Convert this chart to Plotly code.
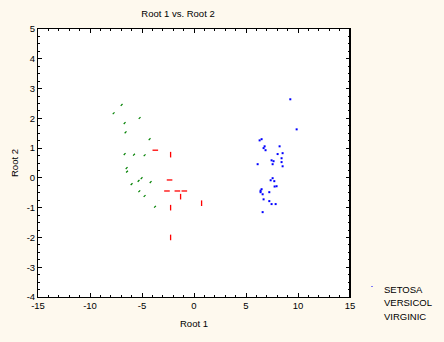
import plotly.graph_objects as go

setosa_x = [9.26, 9.87, 6.31, 6.50, 6.79, 6.69, 6.88, 8.23, 8.52, 8.04, 8.42, 7.46, 7.65, 8.42, 6.12,
            7.56, 8.52, 7.56, 7.37, 7.72, 7.75, 7.94, 6.50, 6.40, 6.40, 6.60, 7.24, 6.69, 7.24, 7.46,
            7.85, 6.60]
setosa_y = [2.64, 1.63, 1.26, 1.30, 1.06, 1.00, 0.93, 1.06, 0.83, 0.80, 0.66, 0.59, 0.56, 0.53, 0.46,
            0.46, 0.39, -0.01, -0.08, -0.11, -0.29, -0.28, -0.38, -0.43, -0.48, -0.55, -0.48, -0.72,
            -0.78, -0.88, -0.88, -1.15]

versicol_x = [-6.96, -7.73, -5.23, -6.67, -6.58, -4.27, -6.67, -5.77, -4.75, -6.48, -6.44, -5.04,
              -5.33, -4.17, -6.00, -5.26, -4.75, -3.75]
versicol_y = [2.45, 2.17, 2.01, 1.84, 1.53, 1.30, 0.80, 0.78, 0.76, 0.33, 0.21, -0.01,
              -0.10, -0.14, -0.21, -0.45, -0.61, -0.97]

virginic_x = [-3.72, -2.25, -2.35, -2.60, -1.60, -0.93, -1.29, 0.73, -2.25, -2.25]
virginic_y = [0.93, 0.78, -0.07, -0.44, -0.44, -0.44, -0.63, -0.85, -1.00, -2.00]
virginic_sym = ["line-ew", "line-ns", "line-ew", "line-ew", "line-ew", "line-ew",
                "line-ns", "line-ns", "line-ns", "line-ns"]

series_names = ["SETOSA", "VERSICOL", "VIRGINIC"]
x_ticks = [-15, -10, -5, 0, 5, 10, 15]
y_ticks = [-4, -3, -2, -1, 0, 1, 2, 3, 4, 5]

FONT = "Liberation Sans, Arial, sans-serif"

fig = go.Figure()
fig.add_trace(go.Scatter(x=setosa_x, y=setosa_y, mode="markers", name=series_names[0],
                         marker=dict(symbol="square", size=2, color="#0000FF", line=dict(width=0))))
fig.add_trace(go.Scatter(x=versicol_x, y=versicol_y, mode="markers", name=series_names[1],
                         marker=dict(symbol="line-ne", size=1.8, color="#008000",
                                     line=dict(width=1.2, color="#008000"))))
fig.add_trace(go.Scatter(x=virginic_x, y=virginic_y, mode="markers", name=series_names[2],
                         marker=dict(symbol=virginic_sym, size=4, color="#FF0000",
                                     line=dict(width=1.3, color="#FF0000"))))

axis_common = dict(showgrid=False, zeroline=False, showline=True, linecolor="black", linewidth=1,
                   mirror="ticks", ticks="inside", ticklen=4, tickcolor="black", automargin=False,
                   tickfont=dict(family=FONT, size=9.5, color="black"))

fig.update_xaxes(range=[-15, 15], tickvals=x_ticks, ticktext=[str(v) for v in x_ticks],
                 minor=dict(dtick=1, ticks="inside", ticklen=2, tickcolor="black"),
                 title=dict(text="Root 1", font=dict(family=FONT, size=9.5, color="black"), standoff=9),
                 **axis_common)
fig.update_yaxes(range=[-4, 5], tickvals=y_ticks, ticktext=[str(v) for v in y_ticks],
                 minor=dict(dtick=0.25, ticks="inside", ticklen=2, tickcolor="black"),
                 title=dict(text="Root 2", font=dict(family=FONT, size=9.5, color="black"), standoff=6),
                 **axis_common)

# right-hand frame edge is drawn heavier in the reference
fig.add_shape(type="line", xref="paper", yref="paper", x0=1, x1=1, y0=0, y1=1,
              line=dict(color="black", width=2))

# compact legend drawn as text
legend_top = 290
for i, name in enumerate(series_names):
    fig.add_annotation(text=name, xref="paper", yref="paper",
                       x=(382 - 38) / 312, y=(297.5 - (legend_top + i * 13.5)) / 268.5,
                       xanchor="left", yanchor="middle", showarrow=False,
                       font=dict(family=FONT, size=9.5, color="black"))
fig.add_shape(type="rect", xref="paper", yref="paper",
              x0=(371.5 - 38) / 312, x1=(372.5 - 38) / 312,
              y0=(297.5 - 287.5) / 268.5, y1=(297.5 - 286.5) / 268.5,
              line=dict(width=0), fillcolor="#0000FF")

fig.update_layout(
    width=444, height=342,
    margin=dict(l=38, r=94, t=29, b=44.5),
    paper_bgcolor="#FEF9EE", plot_bgcolor="white",
    title=dict(text="Root 1 vs. Root 2", x=178 / 444, xanchor="center", y=1 - 14 / 342, yanchor="middle",
               font=dict(family=FONT, size=9.5, color="black")),
    showlegend=False,
)

fig.write_html("out.html", config={"displayModeBar": False},
               post_script="document.body.style.margin='0px';document.body.style.padding='0px';"
                           "document.body.style.background='#FEF9EE';")
